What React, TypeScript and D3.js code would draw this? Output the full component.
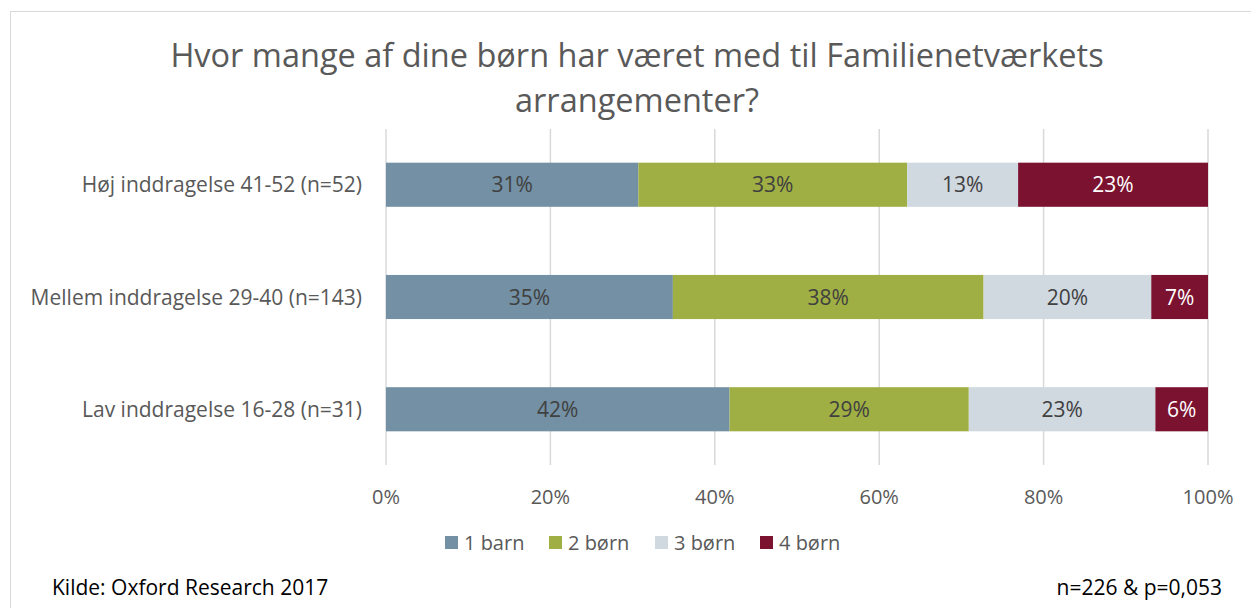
import React from "react";
import * as d3 from "d3";

const categories = ["Høj inddragelse 41-52 (n=52)", "Mellem inddragelse 29-40 (n=143)", "Lav inddragelse 16-28 (n=31)"];
const seriesNames = ["1 barn", "2 børn", "3 børn", "4 børn"];
const barn1 = [30.7, 34.9, 41.8];
const born2 = [32.7, 37.8, 29.1];
const born3 = [13.5, 20.4, 22.7];
const born4 = [23.1, 6.9, 6.4];
const labels1 = ["31%", "35%", "42%"];
const labels2 = ["33%", "38%", "29%"];
const labels3 = ["13%", "20%", "23%"];
const labels4 = ["23%", "7%", "6%"];
const xTicks = [0, 20, 40, 60, 80, 100];
const colors = ["#7390A4", "#9FAF43", "#D0D8E0", "#7B1230"];
const labelColors = ["#404040", "#404040", "#404040", "#FFFFFF"];

const W = 1251, H = 608;
const FONT = "'Open Sans', sans-serif";

export default function App() {
  const x = d3.scaleLinear().domain([0, 100]).range([386, 1208]);
  const y = d3.scaleBand<string>().domain(categories).range([129, 465]).paddingInner(0.607).paddingOuter(0.3);
  const values = [barn1, born2, born3, born4];
  const labs = [labels1, labels2, labels3, labels4];
  const rows = categories.map((c, i) => {
    const d: any = { cat: c };
    seriesNames.forEach((s, j) => (d[s] = values[j][i]));
    return d;
  });
  const stack = d3.stack<any>().keys(seriesNames)(rows);

  const legendX = [445, 549, 655, 760];

  return (
    <svg width={W} height={H} style={{ position: "absolute", left: 0, top: 0, fontFamily: FONT }}>
      <rect x={0} y={0} width={W} height={H} fill="#fff" />
      <rect x={10.5} y={11.5} width={W + 10} height={H + 10} fill="none" stroke="#D9D9D9" strokeWidth={1} />
      <text x={637} y={67} textAnchor="middle" fontSize={32.5} fill="#595959">Hvor mange af dine børn har været med til Familienetværkets</text>
      <text x={637} y={112} textAnchor="middle" fontSize={32.5} fill="#595959">arrangementer?</text>
      {xTicks.map((t) => (
        <g key={t}>
          <line x1={x(t)} x2={x(t)} y1={129} y2={465} stroke="#D9D9D9" strokeWidth={1.5} />
          <text x={x(t)} y={504} textAnchor="middle" fontSize={20} fill="#595959">{t}%</text>
        </g>
      ))}
      {stack.map((layer, j) => (
        <g key={seriesNames[j]}>
          {layer.map((seg, i) => {
            const x0 = x(seg[0]), x1 = x(seg[1]);
            const yy = y(categories[i])!;
            return (
              <g key={i}>
                <rect x={x0} y={yy} width={x1 - x0} height={y.bandwidth()} fill={colors[j]} />
                <text x={(x0 + x1) / 2} y={yy + y.bandwidth() / 2 + 7.5} textAnchor="middle" fontSize={21} fill={labelColors[j]}>{labs[j][i]}</text>
              </g>
            );
          })}
        </g>
      ))}
      {categories.map((c) => (
        <text key={c} x={362} y={y(c)! + y.bandwidth() / 2 + 7.5} textAnchor="end" fontSize={21} fill="#595959">{c}</text>
      ))}
      {seriesNames.map((s, j) => (
        <g key={s}>
          <rect x={legendX[j]} y={536} width={13} height={13} fill={colors[j]} />
          <text x={legendX[j] + 19} y={550} fontSize={20} fill="#595959">{s}</text>
        </g>
      ))}
      <text x={52} y={595} fontSize={21} fill="#000">Kilde: Oxford Research 2017</text>
      <text x={1222} y={595} textAnchor="end" fontSize={21} fill="#000">n=226 &amp; p=0,053</text>
    </svg>
  );
}
